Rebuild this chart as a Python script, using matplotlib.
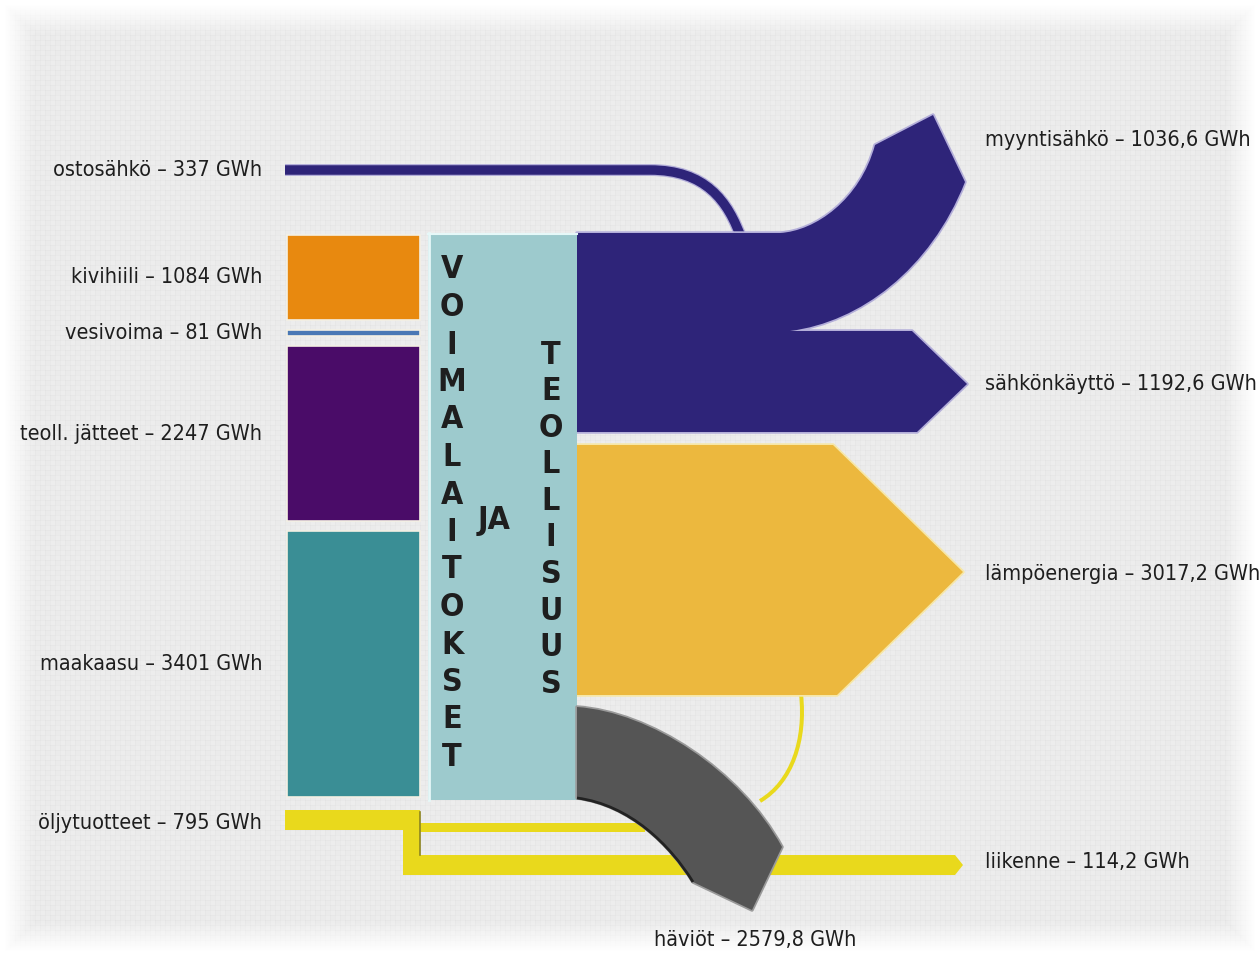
import numpy as np
import matplotlib
matplotlib.use("Agg")
import matplotlib.pyplot as plt
from matplotlib.path import Path
from matplotlib.patches import PathPatch, Rectangle, Polygon
from matplotlib import font_manager as fm

# --- data (GWh) ---
in_names = ['kivihiili', 'vesivoima', 'teoll. jätteet', 'maakaasu']
in_values = [1084, 81, 2247, 3401]
buy_name, buy_value = 'ostosähkö', 337
oil_name, oil_value = 'öljytuotteet', 795
out_names = ['myyntisähkö', 'sähkönkäyttö', 'lämpöenergia', 'liikenne', 'häviöt']
out_values = [1036.6, 1192.6, 3017.2, 114.2, 2579.8]
centre_left = 'VOIMALAITOKSET'
centre_mid = 'JA'
centre_right = 'TEOLLISUUS'

# --- styles ---
in_colors = ['#e8890f', '#4a78b5', '#4a0c68', '#3a8e95']
BLUE = '#2e2479'
HEAT = '#ecb83e'
LOSS = '#555555'
OIL = '#e9d91c'
CENTRE = '#9dcacd'
TXT = '#1e1e1e'
FS = 15.5

W, H = 1260, 956


def pick_font():
    names = {f.name for f in fm.fontManager.ttflist}
    if 'Liberation Sans Narrow' in names:
        return dict(family='Liberation Sans Narrow')
    for f in fm.fontManager.ttflist:
        if f.name == 'DejaVu Sans' and str(f.stretch) == 'condensed':
            return dict(family='DejaVu Sans', fontstretch='condensed')
    return dict(family='DejaVu Sans')


FONT = pick_font()


def label(name, value):
    num = f"{value:g}".replace('.', ',')
    return f"{name} \u2013 {num} GWh"


def px(w):  # pixel width -> points
    return w * 72 / 100


def shape(ax, parts, color, halo=None, z=3):
    verts, codes = [], []
    for kind, pts in parts:
        if kind == 'M':
            verts.append(pts); codes.append(Path.MOVETO)
        elif kind == 'L':
            verts.append(pts); codes.append(Path.LINETO)
        else:  # cubic: three points
            verts += pts; codes += [Path.CURVE4] * 3
    verts.append(verts[0]); codes.append(Path.CLOSEPOLY)
    p = Path(verts, codes)
    if halo:
        ax.add_patch(PathPatch(p, fc='none', ec=halo, lw=2.5, joinstyle='round', zorder=z - 0.5))
    ax.add_patch(PathPatch(p, fc=color, ec='none', zorder=z))


fig = plt.figure(figsize=(W / 100, H / 100), dpi=100)
ax = fig.add_axes([0, 0, 1, 1])
ax.set_xlim(0, W)
ax.set_ylim(H, 0)
ax.axis('off')

# textured light grey background fading to white at the border
yy, xx = np.mgrid[0:H, 0:W]
tex = 237 - 4 * ((xx % 5) == 0) - 4 * ((yy % 5) == 0) - 2 * (((xx // 5) + (yy // 5)) % 2)
d = np.minimum.reduce([xx, W - 1 - xx, yy, H - 1 - yy])
a = np.clip((d - 4) / 30, 0, 1)
g = (255 * (1 - a) + tex * a) / 255
ax.imshow(np.dstack([g, g, g]), extent=(0, W, H, 0), zorder=0, interpolation='nearest')

# --- layout (pixels, y downward) ---
left_x0, left_x1 = 287, 420
stack_top, stack_bot, gap = 235, 797, 10
scale = (stack_bot - stack_top - gap * (len(in_values) - 1)) / sum(in_values)
cx0, cx1, ctop, cbot = 428, 577, 233, 800
lab_lx, lab_rx = 262, 985

# purchased electricity line (drawn first, band covers its end)
buy_y = 170
bp = Path([(285, buy_y), (650, buy_y), (705, buy_y), (728, 200), (742, 240)],
          [Path.MOVETO, Path.LINETO, Path.CURVE4, Path.CURVE4, Path.CURVE4])
ax.add_patch(PathPatch(bp, fc='none', ec='#b3aed9', lw=px(12), capstyle='butt', zorder=1.5))
ax.add_patch(PathPatch(bp, fc='none', ec=BLUE, lw=px(9.5), capstyle='butt', zorder=2))
ax.text(lab_lx, buy_y, label(buy_name, buy_value), ha='right', va='center',
        fontsize=FS, color=TXT, **FONT)

# input blocks stacked from their values
y = stack_top
for name, v, c in zip(in_names, in_values, in_colors):
    h = v * scale
    ax.add_patch(Rectangle((left_x0, y), left_x1 - left_x0, h, fc=c, ec='#f4f0e4', lw=1.2, zorder=3))
    ax.text(lab_lx, y + h / 2, label(name, v), ha='right', va='center',
            fontsize=FS, color=TXT, **FONT)
    y += h + gap

# central block
ax.add_patch(Rectangle((cx0, ctop), cx1 - cx0, cbot - ctop, fc=CENTRE, ec='none', zorder=3))
ax.plot([cx0 + 1, cx0 + 1], [ctop, cbot], color='#e6f8f8', lw=2, zorder=3.2)
ax.plot([cx0, cx1], [ctop + 1, ctop + 1], color='#e6f8f8', lw=1.5, zorder=3.2)
for i, ch in enumerate(centre_left):
    ax.text(452, 270 + i * 37.5, ch, ha='center', va='center', fontsize=23, color=TXT,
            fontweight='bold', zorder=5, **FONT)
for i, ch in enumerate(centre_right):
    ax.text(551, 355 + i * 36.6, ch, ha='center', va='center', fontsize=23, color=TXT,
            fontweight='bold', zorder=5, **FONT)
ax.text(494, 521, centre_mid, ha='center', va='center', fontsize=23, color=TXT,
        fontweight='bold', zorder=5, **FONT)

# electricity band: two arrows
shape(ax, [('M', (cx1, 233)), ('L', (780, 233)),
           ('C', [(815, 231), (860, 200), (875, 145)]),
           ('L', (933, 115)), ('L', (965, 182)),
           ('C', [(930, 270), (860, 322), (790, 331)]),
           ('L', (912, 331)), ('L', (967, 384)), ('L', (917, 432)), ('L', (cx1, 432))],
      BLUE, halo='#b3aed9')
ax.text(lab_rx, 140, label(out_names[0], out_values[0]), ha='left', va='center',
        fontsize=FS, color=TXT, **FONT)
ax.text(lab_rx, 384, label(out_names[1], out_values[1]), ha='left', va='center',
        fontsize=FS, color=TXT, **FONT)

# heat arrow
shape(ax, [('M', (cx1, 445)), ('L', (833, 445)), ('L', (963, 572)), ('L', (837, 695)), ('L', (cx1, 695))],
      HEAT, halo='#f6e7a8')
ax.text(lab_rx, 574, label(out_names[2], out_values[2]), ha='left', va='center',
        fontsize=FS, color=TXT, **FONT)

# oil products: bar, drop and transport line
ax.add_patch(Rectangle((285, 810), 420 - 285, 20, fc=OIL, ec='none', zorder=2))
ax.add_patch(Rectangle((403, 810), 17, 65, fc=OIL, ec='none', zorder=2))
ax.add_patch(Polygon([(403, 855), (955, 855), (963, 865), (955, 875), (403, 875)],
                     closed=True, fc=OIL, ec='none', zorder=2))
ax.add_patch(Rectangle((420, 823), 225, 9, fc=OIL, ec='none', zorder=2))
ax.plot([420, 420], [812, 855], color='#8c8420', lw=1.2, zorder=2.2)
ax.text(lab_lx, 823, label(oil_name, oil_value), ha='right', va='center',
        fontsize=FS, color=TXT, **FONT)
ax.text(lab_rx, 862, label(out_names[3], out_values[3]), ha='left', va='center',
        fontsize=FS, color=TXT, **FONT)

# thin heat return curve into losses
hp = Path([(801, 694), (806, 740), (792, 782), (760, 801)],
          [Path.MOVETO, Path.CURVE4, Path.CURVE4, Path.CURVE4])
ax.add_patch(PathPatch(hp, fc='none', ec=OIL, lw=px(4), zorder=2))

# losses band
shape(ax, [('M', (cx1, 707)),
           ('C', [(650, 712), (740, 770), (782, 847)]),
           ('L', (752, 910)), ('L', (693, 882)),
           ('C', [(670, 845), (630, 805), (cx1, 798)])],
      LOSS, halo='#9a9a9a', z=4)
lp = Path([(693, 882), (670, 845), (630, 805), (cx1, 798)],
          [Path.MOVETO, Path.CURVE4, Path.CURVE4, Path.CURVE4])
ax.add_patch(PathPatch(lp, fc='none', ec='#222222', lw=2, zorder=4.2))
ax.text(755, 940, label(out_names[4], out_values[4]), ha='center', va='center',
        fontsize=FS, color=TXT, **FONT)

fig.savefig('out.png', dpi=100)
